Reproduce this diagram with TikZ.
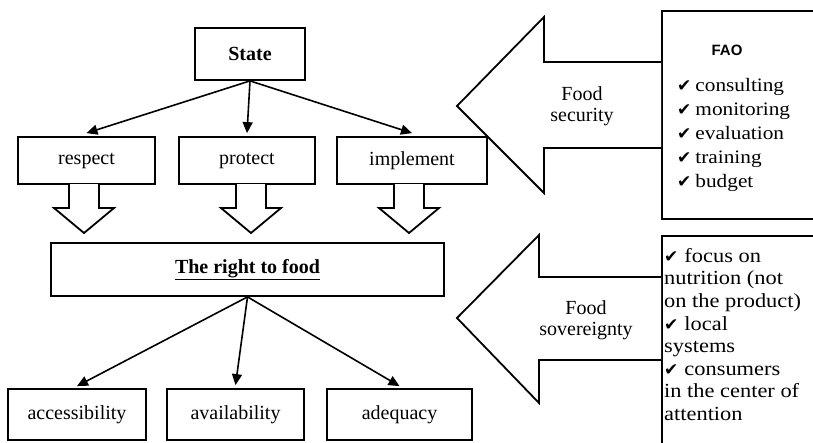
\documentclass[tikz,border=0pt]{standalone}
\usepackage{fontspec}
\setmainfont{Liberation Serif}
\newfontfamily\chkfont{DejaVu Sans}
\newfontfamily\faofont{Liberation Sans}
\newfontfamily\wideserif[FakeStretch=1.12]{Liberation Serif}
\usetikzlibrary{arrows.meta}
\newcommand\ck{{\chkfont\fontsize{17}{17}\selectfont ✔}}
\begin{document}
\begin{tikzpicture}[x=1pt,y=-1pt,
  box/.style={draw,line width=1.8pt,inner sep=0pt,font=\fontsize{20}{22}\selectfont},
  conn/.style={line width=1.6pt,-{Triangle[length=11pt,width=10pt]}},
  blockarrow/.style={draw,line width=1.8pt,fill=white,line join=miter},
  lbl/.style={align=center,inner sep=0pt,font=\fontsize{20}{21}\selectfont}]
\useasboundingbox (0,0) rectangle (813,442);
\clip (0,0) rectangle (813,442);
\fill[white] (0,0) rectangle (813,442);

% top part
\node[box,minimum width=110pt,minimum height=52pt,font=\bfseries\fontsize{20}{22}\selectfont] (state) at (250,54) {State};
\node[box,minimum width=137pt,minimum height=47pt] (respect) at (86.5,160.5) {respect};
\node[box,minimum width=136pt,minimum height=47pt] (protect) at (247,160.5) {protect};
\node[box,minimum width=150pt,minimum height=47pt] (implement) at (412,160.5) {implement};

\draw[conn] (state.south) -- ([yshift=3pt]respect.north);
\draw[conn] (state.south) -- ([yshift=3pt]protect.north);
\draw[conn] (state.south) -- ([yshift=3pt]implement.north);

% right to food
\node[box,minimum width=393pt,minimum height=53pt,font=\bfseries\fontsize{20}{22}\selectfont] (right) at (247.5,269.5) {\underline{The right to food}};

% block arrows down
\foreach \c in {84,251,409}{
  \draw[blockarrow] (\c-15,184) -- (\c-15,208) -- (\c-30,208) -- (\c,233) -- (\c+30,208) -- (\c+15,208) -- (\c+15,184);
}

% bottom boxes
\node[box,minimum width=138pt,minimum height=51pt] (access) at (77,414.5) {accessibility};
\node[box,minimum width=137pt,minimum height=51pt] (avail) at (235.5,414.5) {availability};
\node[box,minimum width=145pt,minimum height=51pt] (adeq) at (399.5,414.5) {adequacy};

\draw[conn] (right.south) -- ([yshift=2pt]access.north);
\draw[conn] (right.south) -- ([yshift=3pt]avail.north);
\draw[conn] (right.south) -- ([yshift=2pt]adeq.north);

% right boxes
\node[draw,line width=1.8pt,anchor=north west,minimum width=180pt,minimum height=208pt,inner sep=0pt] (fao) at (661,10) {};
\node[draw,line width=1.8pt,anchor=north west,minimum width=180pt,minimum height=230pt,inner sep=0pt] (sov) at (661,235) {};

\node[anchor=base,inner sep=0pt,font=\faofont\bfseries\fontsize{15}{15}\selectfont] (faotitle) at (727,55) {FAO};
\node[anchor=north west,inner sep=0pt,align=left,font=\wideserif\fontsize{19}{24}\selectfont] (faolist) at (677,78)
  {\ck\hspace{4pt}consulting\\ \ck\hspace{4pt}monitoring\\ \ck\hspace{4pt}evaluation\\ \ck\hspace{4pt}training\\ \ck\hspace{4pt}budget};
\node[anchor=north west,inner sep=0pt,align=left,font=\wideserif\fontsize{20}{22.6}\selectfont] (sovlist) at (664,248)
  {\ck\hspace{6pt}focus on\\ nutrition (not\\ on the product)\\ \ck\hspace{6pt}local\\ systems\\ \ck\hspace{6pt}consumers\\ in the center of\\ attention};

% big arrows
\draw[blockarrow] (fao.west |- 0,62) -- (544,62) -- (544,17) -- (457,106) -- (544,193) -- (544,148) -- (fao.west |- 0,148);
\node[lbl] (fsec) at (582,106) {Food\\security};
\draw[blockarrow] (sov.west |- 0,277) -- (539,277) -- (539,235) -- (457,318) -- (539,403) -- (539,360) -- (sov.west |- 0,360);
\node[lbl] (fsov) at (586,320) {Food\\sovereignty};
\end{tikzpicture}
\end{document}
